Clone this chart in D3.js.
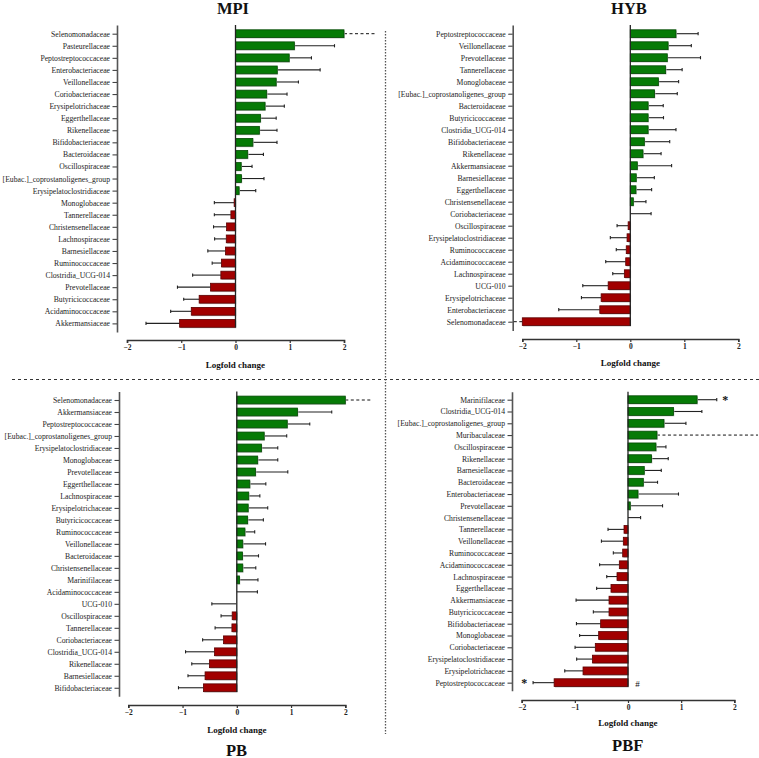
<!DOCTYPE html>
<html><head><meta charset="utf-8">
<script src="https://cdn.jsdelivr.net/npm/d3@7"></script>
<style>body{margin:0;background:#fff}svg{display:block}</style>
</head><body>
<script>
// ---------- DATA ----------
const xTicks = [-2, -1, 0, 1, 2];
const axisTitle = "Logfold change";

const mpiCats = ["Selenomonadaceae","Pasteurellaceae","Peptostreptococcaceae","Enterobacteriaceae","Veillonellaceae","Coriobacteriaceae","Erysipelotrichaceae","Eggerthellaceae","Rikenellaceae","Bifidobacteriaceae","Bacteroidaceae","Oscillospiraceae","[Eubac.]_coprostanoligenes_group","Erysipelatoclostridiaceae","Monoglobaceae","Tannerellaceae","Christensenellaceae","Lachnospiraceae","Barnesiellaceae","Ruminococcaceae","Clostridia_UCG-014","Prevotellaceae","Butyricicoccaceae","Acidaminococcaceae","Akkermansiaceae"];
const mpiVals = [2.0,1.085,0.99,0.77,0.75,0.575,0.545,0.46,0.44,0.32,0.225,0.105,0.11,0.067,-0.025,-0.085,-0.165,-0.17,-0.185,-0.26,-0.27,-0.46,-0.67,-0.815,-1.03];
const mpiErrs = [1.0,0.74,0.41,0.79,0.41,0.375,0.355,0.29,0.325,0.445,0.29,0.2,0.415,0.306,0.365,0.305,0.24,0.215,0.325,0.17,0.52,0.61,0.285,0.38,0.62];

const hybCats = ["Peptostreptococcaceae","Veillonellaceae","Prevotellaceae","Tannerellaceae","Monoglobaceae","[Eubac.]_coprostanoligenes_group","Bacteroidaceae","Butyricicoccaceae","Clostridia_UCG-014","Bifidobacteriaceae","Rikenellaceae","Akkermansiaceae","Barnesiellaceae","Eggerthellaceae","Christensenellaceae","Coriobacteriaceae","Oscillospiraceae","Erysipelatoclostridiaceae","Ruminococcaceae","Acidaminococcaceae","Lachnospiraceae","UCG-010","Erysipelotrichaceae","Enterobacteriaceae","Selenomonadaceae"];
const hybVals = [0.846,0.70,0.685,0.655,0.52,0.45,0.33,0.33,0.33,0.26,0.235,0.13,0.11,0.105,0.056,0.0,-0.04,-0.06,-0.075,-0.085,-0.11,-0.41,-0.54,-0.565,-2.0];
const hybErrs = [0.41,0.43,0.615,0.305,0.375,0.42,0.28,0.285,0.516,0.47,0.335,0.635,0.335,0.29,0.234,0.385,0.205,0.31,0.185,0.37,0.215,0.47,0.365,0.76,1.0];

const pbCats = ["Selenomonadaceae","Akkermansiaceae","Peptostreptococcaceae","[Eubac.]_coprostanoligenes_group","Erysipelatoclostridiaceae","Monoglobaceae","Prevotellaceae","Eggerthellaceae","Lachnospiraceae","Erysipelotrichaceae","Butyricicoccaceae","Ruminococcaceae","Veillonellaceae","Bacteroidaceae","Christensenellaceae","Marinifilaceae","Acidaminococcaceae","UCG-010","Oscillospiraceae","Tannerellaceae","Coriobacteriaceae","Clostridia_UCG-014","Rikenellaceae","Barnesiellaceae","Bifidobacteriaceae"];
const pbVals = [2.0,1.12,0.93,0.505,0.455,0.385,0.345,0.24,0.22,0.21,0.2,0.15,0.11,0.105,0.11,0.05,0.0,-0.01,-0.085,-0.09,-0.245,-0.41,-0.505,-0.585,-0.615];
const pbErrs = [1.0,0.63,0.415,0.415,0.30,0.37,0.595,0.295,0.205,0.36,0.29,0.18,0.42,0.295,0.24,0.34,0.38,0.45,0.205,0.31,0.385,0.535,0.325,0.315,0.46];

const pbfCats = ["Marinifilaceae","Clostridia_UCG-014","[Eubac.]_coprostanoligenes_group","Muribaculaceae","Oscillospiraceae","Rikenellaceae","Barnesiellaceae","Bacteroidaceae","Enterobacteriaceae","Prevotellaceae","Christensenellaceae","Tannerellaceae","Veillonellaceae","Ruminococcaceae","Acidaminococcaceae","Lachnospiraceae","Eggerthellaceae","Akkermansiaceae","Butyricicoccaceae","Bifidobacteriaceae","Monoglobaceae","Coriobacteriaceae","Erysipelatoclostridiaceae","Erysipelotrichaceae","Peptostreptococcaceae"];
const pbfVals = [1.30,0.857,0.677,0.545,0.526,0.444,0.306,0.288,0.188,0.043,0.0,-0.075,-0.088,-0.1,-0.163,-0.207,-0.32,-0.357,-0.357,-0.515,-0.552,-0.615,-0.67,-0.846,-1.39];
const pbfErrs = [0.37,0.533,0.413,2.0,0.188,0.313,0.32,0.268,0.762,0.607,0.237,0.301,0.412,0.176,0.371,0.193,0.27,0.62,0.295,0.455,0.358,0.381,0.296,0.344,0.396];
const pbfMarks = [
  {cat:"Marinifilaceae", at:1.83, text:"*"},
  {cat:"Peptostreptococcaceae", at:-1.95, text:"*"},
  {cat:"Peptostreptococcaceae", at:0.18, text:"#"}
];

// ---------- LAYOUT ----------
const W = 759, H = 758;
const serif = "'Liberation Serif','Times New Roman',serif";
const GREEN = "#067a06", GREEN_DK = "#024a02";
const RED = "#a10000", RED_DK = "#5a0000";

const panels = [
  {title:"MPI", cats:mpiCats, vals:mpiVals, errs:mpiErrs, marks:[],
   L:{x0:127, x1:344, axisX:117, first:33.7, step:12.07, ext:8.7, xAxisY:340, titleX:233, titleY:13.5, labY:367.5, dashPos:375, dashNeg:117}},
  {title:"HYB", cats:hybCats, vals:hybVals, errs:hybErrs, marks:[],
   L:{x0:522.3, x1:738.3, axisX:512.7, first:33.7, step:12.0, ext:8.7, xAxisY:339, titleX:629, titleY:13.5, labY:365.5, dashPos:755, dashNeg:512.7}},
  {title:"PB", cats:pbCats, vals:pbVals, errs:pbErrs, marks:[],
   L:{x0:128.3, x1:345.3, axisX:119, first:400, step:11.99, ext:8.5, xAxisY:705, titleX:236.5, titleY:755.5, labY:732.5, dashPos:371, dashNeg:119}},
  {title:"PBF", cats:pbfCats, vals:pbfVals, errs:pbfErrs, marks:pbfMarks,
   L:{x0:521.7, x1:734.3, axisX:512, first:399.7, step:11.79, ext:8, xAxisY:700, titleX:627.7, titleY:750.5, labY:725.5, dashPos:758, dashNeg:512}}
];

const svg = d3.select("body").append("svg").attr("width", W).attr("height", H)
  .style("font-family", serif);

// dividers
svg.append("line").attr("x1", 12).attr("x2", W).attr("y1", 379.5).attr("y2", 379.5)
  .attr("stroke", "#333").attr("stroke-width", 1).attr("stroke-dasharray", "3,3");
svg.append("line").attr("x1", 385.5).attr("x2", 385.5).attr("y1", 31).attr("y2", 734)
  .attr("stroke", "#555").attr("stroke-width", 1.3).attr("stroke-dasharray", "1.5,1.5");

panels.forEach(p => {
  const L = p.L;
  const n = p.cats.length;
  const last = L.first + (n - 1) * L.step;
  const x = d3.scaleLinear().domain([-2, 2]).range([L.x0, L.x1]);
  const y = d3.scalePoint().domain(p.cats).range([L.first - L.ext, last + L.ext]).padding(L.ext / L.step);
  const g = svg.append("g");
  const bh = 7.8;

  // y axis
  const ya = g.append("g").attr("transform", `translate(${L.axisX},0)`)
    .call(d3.axisLeft(y).tickSize(4.5).tickSizeOuter(0).tickPadding(2.5));
  ya.select(".domain").attr("stroke", "#555").attr("stroke-width", 1.6);
  ya.selectAll(".tick line").attr("stroke", "#444").attr("stroke-width", 1.1);
  ya.selectAll(".tick text").attr("font-family", serif).attr("font-size", 7.7).attr("fill", "#222");

  // x axis
  const xa = g.append("g").attr("transform", `translate(0,${L.xAxisY})`)
    .call(d3.axisBottom(x).tickValues(xTicks).tickFormat(d3.format("d")).tickSize(3).tickSizeOuter(3).tickPadding(2));
  xa.select(".domain").attr("stroke", "#333").attr("stroke-width", 1.6);
  xa.selectAll(".tick line").attr("stroke", "#333").attr("stroke-width", 1.2);
  xa.selectAll(".tick text").attr("font-family", serif).attr("font-size", 7.5).attr("font-weight", "bold").attr("fill", "#222");

  g.append("text").attr("x", x(0)).attr("y", L.labY).attr("text-anchor", "middle")
    .attr("font-size", 9).attr("font-weight", "bold").attr("fill", "#111").text(axisTitle);

  g.append("text").attr("x", L.titleX).attr("y", L.titleY).attr("text-anchor", "middle")
    .attr("font-size", 16.5).attr("font-weight", "bold").attr("fill", "#111").text(p.title);

  const rows = p.cats.map((c, i) => ({cat: c, v: p.vals[i], e: p.errs[i]}));

  // error bars
  rows.forEach(r => {
    const cy = y(r.cat);
    const dir = r.v < 0 ? -1 : 1;
    const vc = Math.max(-2, Math.min(2, r.v));
    const end = r.v + dir * r.e;
    if (Math.abs(end) > 2) {
      const xe = dir > 0 ? L.dashPos : L.dashNeg;
      g.append("line").attr("x1", x(vc)).attr("x2", xe).attr("y1", cy).attr("y2", cy)
        .attr("stroke", "#111").attr("stroke-width", 1).attr("stroke-dasharray", "3,2.5");
    } else {
      g.append("line").attr("x1", x(vc)).attr("x2", x(end)).attr("y1", cy).attr("y2", cy)
        .attr("stroke", "#222").attr("stroke-width", 1.1);
      g.append("line").attr("x1", x(end)).attr("x2", x(end)).attr("y1", cy - 1.6).attr("y2", cy + 1.6)
        .attr("stroke", "#222").attr("stroke-width", 1.1);
    }
  });

  // bars (shadow + bar)
  rows.forEach(r => {
    const cy = y(r.cat);
    const vc = Math.max(-2, Math.min(2, r.v));
    const xa0 = Math.min(x(0), x(vc)), w = Math.abs(x(vc) - x(0));
    if (w < 0.6) return;
    g.append("rect").attr("x", xa0 + 0.8).attr("y", cy - bh / 2 + 1).attr("width", w).attr("height", bh)
      .attr("fill", "#c8c8c8");
    g.append("rect").attr("x", xa0).attr("y", cy - bh / 2).attr("width", w).attr("height", bh)
      .attr("fill", r.v >= 0 ? GREEN : RED)
      .attr("stroke", r.v >= 0 ? GREEN_DK : RED_DK).attr("stroke-width", 0.8);
  });

  // zero line
  g.append("line").attr("x1", x(0)).attr("x2", x(0)).attr("y1", L.first - L.ext).attr("y2", last + L.step * 0.35)
    .attr("stroke", "#222").attr("stroke-width", 1.3);

  // marks
  p.marks.forEach(m => {
    g.append("text").attr("x", x(m.at)).attr("y", y(m.cat) + 4).attr("text-anchor", "middle")
      .attr("font-size", m.text === "*" ? 12 : 9).attr("font-weight", m.text === "*" ? "bold" : "normal")
      .attr("fill", "#111").text(m.text);
  });
});
</script>
</body></html>
